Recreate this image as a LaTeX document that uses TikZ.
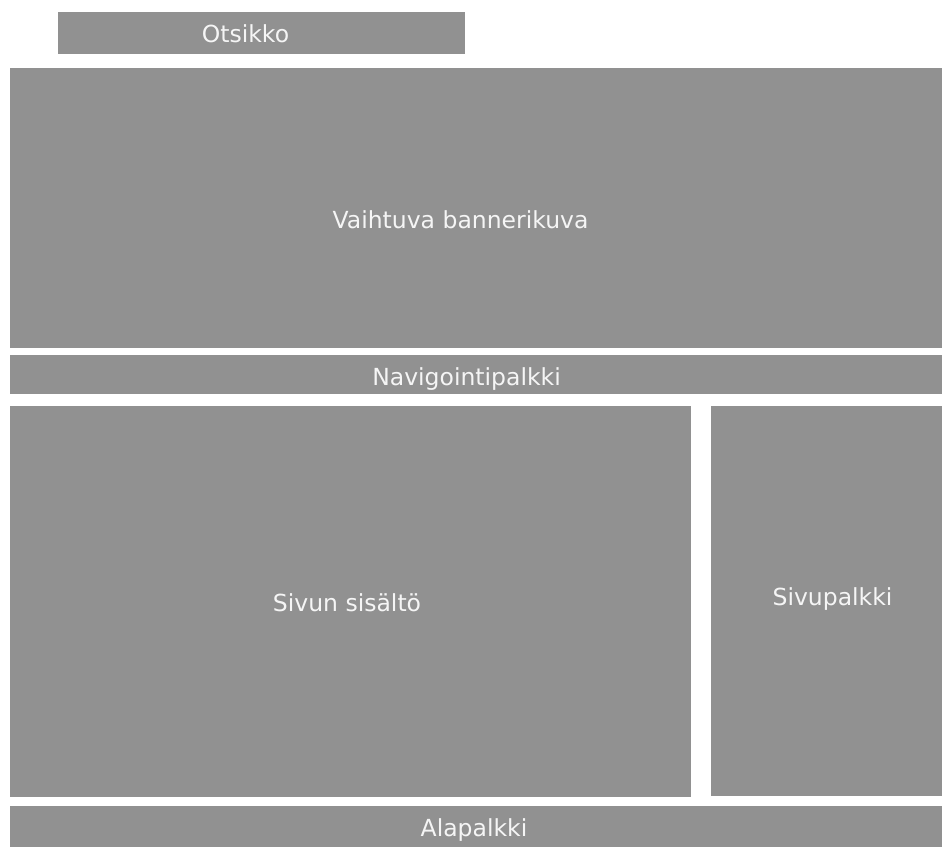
\documentclass[tikz,border=0pt]{standalone}
\usepackage{fontspec}
\setmainfont{DejaVu Sans}
\usetikzlibrary{positioning}
\definecolor{boxgray}{RGB}{145,145,145}
\definecolor{labelwhite}{RGB}{245,245,245}
\tikzset{
  area/.style={fill=boxgray, draw=none, inner sep=0pt, outer sep=0pt},
  areatext/.style={text=labelwhite, anchor=base, inner sep=0pt, font=\fontsize{23.5}{26}\selectfont}
}

\begin{document}
\begin{tikzpicture}[x=1pt, y=-1pt]
            % Fix page size
            \useasboundingbox (0, 0) rectangle (942, 846);
            % Draw the areas
            \node[area, minimum width=407pt, minimum height=42pt] (header) at (261.5, 33) {};
            \node[area, minimum width=932pt, minimum height=280pt] (banner) at (476, 207.5) {};
            \node[area, minimum width=932pt, minimum height=39pt] (nav) at (476, 374.5) {};
            \node[area, minimum width=681pt, minimum height=391pt] (content) at (350.5, 601.5) {};
            \node[area, minimum width=231pt, minimum height=390pt] (sidebar) at (826.5, 601) {};
            \node[area, minimum width=932pt, minimum height=41pt] (footer) at (476, 826.5) {};
            % Label the areas
            \node[areatext] (headerlabel) at (245.5, 42) {Otsikko};
            \node[areatext] (bannerlabel) at (460.5, 228) {Vaihtuva bannerikuva};
            \node[areatext] (navlabel) at (466.5, 385) {Navigointipalkki};
            \node[areatext] (contentlabel) at (347, 611) {Sivun sisältö};
            \node[areatext] (sidebarlabel) at (832.5, 605) {Sivupalkki};
            \node[areatext] (footerlabel) at (474, 836) {Alapalkki};
          \end{tikzpicture}
\end{document}
